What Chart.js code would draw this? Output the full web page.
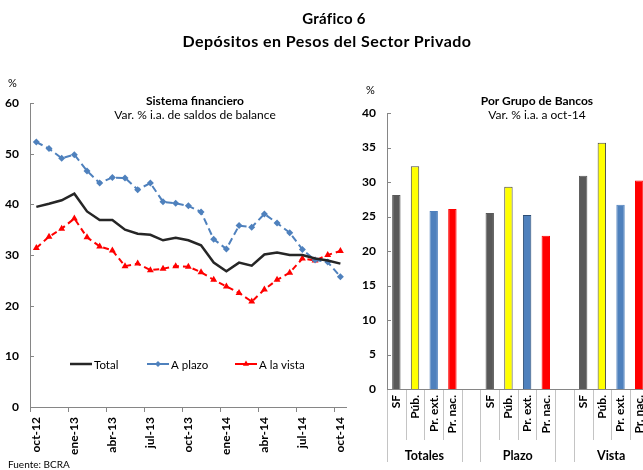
<!DOCTYPE html>
<html><head><meta charset="utf-8">
<script src="https://cdn.jsdelivr.net/npm/chart.js@4"></script>
<style>
html,body{margin:0;padding:0;background:#fff;overflow:hidden;width:643px;height:470px;}
#wrap{position:relative;width:643px;height:470px;overflow:hidden;font-family:Lato, sans-serif;color:#000;}
.t{position:absolute;white-space:nowrap;line-height:1;text-align:center;z-index:2;}
#c1{position:absolute;left:0;top:0;}
#c2{position:absolute;left:360px;top:0;}
</style></head>
<body><div id="wrap">
<canvas id="c1" width="360" height="470"></canvas>
<canvas id="c2" width="300" height="470"></canvas>
<div class="t" style="left:184px;top:11px;width:300px;font-size:15px;font-weight:bold;letter-spacing:0.3px;">Gráfico 6</div>
<div class="t" style="left:127px;top:33px;width:400px;font-size:16px;font-weight:bold;letter-spacing:0.45px;">Depósitos en Pesos del Sector Privado</div>
<div class="t" style="left:95px;top:95px;width:200px;font-size:12px;font-weight:bold;">Sistema financiero</div>
<div class="t" style="left:95px;top:109px;width:200px;font-size:12px;">Var. % i.a. de saldos de balance</div>
<div class="t" style="left:437px;top:95px;width:200px;font-size:12px;font-weight:bold;">Por Grupo de Bancos</div>
<div class="t" style="left:437px;top:109px;width:200px;font-size:12px;">Var. % i.a. a oct-14</div>
<div class="t" style="left:8px;top:77px;font-size:11px;">%</div>
<div class="t" style="left:366px;top:84px;font-size:11px;">%</div>
<div class="t" style="left:8px;top:459px;font-size:10px;">Fuente: BCRA</div>
</div>
<script>
// ---- Data: left panel (Sistema financiero) ----
const months = ['oct-12','nov-12','dic-12','ene-13','feb-13','mar-13','abr-13','may-13','jun-13','jul-13','ago-13','sep-13','oct-13','nov-13','dic-13','ene-14','feb-14','mar-14','abr-14','may-14','jun-14','jul-14','ago-14','sep-14','oct-14'];
const total = [39.5, 40.1, 40.8, 42.1, 38.6, 36.9, 36.9, 35.0, 34.2, 34.0, 32.9, 33.4, 32.9, 31.9, 28.5, 26.8, 28.5, 27.9, 30.1, 30.5, 30.0, 30.0, 29.3, 28.9, 28.3];
const aPlazo = [52.3, 51.0, 49.1, 49.8, 46.6, 44.2, 45.3, 45.2, 42.9, 44.2, 40.5, 40.2, 39.7, 38.5, 33.1, 31.2, 35.8, 35.5, 38.1, 36.3, 34.4, 31.1, 29.0, 28.6, 25.7];
const aLaVista = [31.4, 33.6, 35.2, 37.2, 33.5, 31.7, 30.9, 27.8, 28.3, 27.0, 27.3, 27.8, 27.7, 26.6, 25.1, 23.8, 22.5, 20.8, 23.2, 25.1, 26.5, 29.3, 28.9, 30.0, 30.8];
const leftYTicks = [0, 10, 20, 30, 40, 50, 60];

// ---- Data: right panel (Por Grupo de Bancos) ----
const groupLabels = ['Totales', 'Plazo', 'Vista'];
const bankLabels = ['SF', 'Púb.', 'Pr. ext.', 'Pr. nac.'];
const totalesBancos = [28.1, 32.3, 25.8, 26.1];
const plazoBancos = [25.5, 29.3, 25.2, 22.2];
const vistaBancos = [30.9, 35.7, 26.7, 30.2];
const rightYTicks = [0, 5, 10, 15, 20, 25, 30, 35, 40];

const bankColors = ['#595959', '#ffff00', '#4f81bd', '#ff0000'];
const bankBorders = ['#595959', '#4a4a4a', '#4f81bd', '#ff0000'];

Chart.defaults.font.family = 'Lato, sans-serif';
Chart.defaults.color = '#000';

const AXIS = '#868686';

const yTickInside = {
  id: 'yTickInside',
  afterDraw(chart) {
    const {ctx, chartArea} = chart; const y = chart.scales.y;
    ctx.save(); ctx.strokeStyle = AXIS; ctx.lineWidth = 1;
    y.ticks.forEach((t, i) => {
      const py = Math.round(y.getPixelForTick(i)) + 0.5;
      ctx.beginPath(); ctx.moveTo(chartArea.left, py); ctx.lineTo(chartArea.left + 4, py); ctx.stroke();
    });
    ctx.restore();
  }
};

const inlineLegend = {
  id: 'inlineLegend',
  afterDatasetsDraw(chart) {
    const ctx = chart.ctx; const y = 364;
    const xs = [70, 147, 235];
    chart.data.datasets.forEach((d, k) => {
      const x0 = xs[k];
      ctx.save();
      ctx.strokeStyle = d.borderColor; ctx.lineWidth = d.borderWidth;
      ctx.beginPath(); ctx.moveTo(x0, y); ctx.lineTo(x0 + 22, y); ctx.stroke();
      if (d.pointRadius) {
        ctx.fillStyle = d.pointBackgroundColor; ctx.strokeStyle = d.pointBackgroundColor;
        Chart.helpers.drawPoint(ctx, {pointStyle: d.pointStyle, radius: d.pointRadius - 0.5, rotation: 0, borderWidth: 0}, x0 + 11, y);
      }
      ctx.fillStyle = '#000'; ctx.font = '11.5px Lato, sans-serif'; ctx.textBaseline = 'middle'; ctx.textAlign = 'left';
      ctx.fillText(d.label, x0 + 24, y + 1);
      ctx.restore();
    });
  }
};

new Chart(document.getElementById('c1'), {
  type: 'line',
  data: {
    labels: months,
    datasets: [
      {label: 'Total', data: total, borderColor: '#262626', backgroundColor: '#262626', borderWidth: 2.5, pointRadius: 0, tension: 0},
      {label: 'A plazo', data: aPlazo, borderColor: '#4f81bd', backgroundColor: '#4f81bd', borderWidth: 2, borderDash: [7, 4],
       pointStyle: 'rectRot', pointRadius: 3.5, pointBackgroundColor: '#4f81bd', pointBorderWidth: 0, tension: 0},
      {label: 'A la vista', data: aLaVista, borderColor: '#ff0000', backgroundColor: '#ff0000', borderWidth: 2, borderDash: [6, 4],
       pointStyle: 'triangle', pointRadius: 4, pointBackgroundColor: '#ff0000', pointBorderWidth: 0, tension: 0}
    ]
  },
  options: {
    responsive: false, animation: false, devicePixelRatio: 1,
    layout: {padding: {top: 103, right: 10, left: 0, bottom: 0}},
    plugins: {legend: {display: false}, tooltip: {enabled: false}},
    scales: {
      x: {
        offset: true,
        grid: {display: true, drawOnChartArea: false, drawTicks: true, tickLength: 5, offset: true,
               color: (c) => (c.index % 3 === 0 ? AXIS : 'rgba(0,0,0,0)')},
        border: {display: true, color: AXIS, width: 1},
        ticks: {autoSkip: false, maxRotation: 90, minRotation: 90, padding: 5,
                font: {size: 12, weight: 'bold'},
                callback: (v, i) => (i % 3 === 0 ? months[i] : '')},
        afterFit: (s) => { s.height = 63; }
      },
      y: {
        min: 0, max: 60,
        afterBuildTicks: (s) => { s.ticks = leftYTicks.map(v => ({value: v})); },
        grid: {display: false, drawTicks: false},
        border: {display: true, color: AXIS, width: 1},
        ticks: {padding: 11, font: {size: 12, weight: 'bold'}},
        afterFit: (s) => { s.width = 30; }
      }
    }
  },
  plugins: [yTickInside, inlineLegend]
});

// ---- Right panel ----
const barLabels = [];
const barValues = [];
const barFill = [];
const barBorder = [];
[totalesBancos, plazoBancos, vistaBancos].forEach((arr, g) => {
  bankLabels.forEach((b, j) => {
    barLabels.push(b); barValues.push(arr[j]); barFill.push(bankColors[j]);
    barBorder.push(g === 1 && j === 2 ? '#2c4d74' : bankBorders[j]);
  });
  if (g < 2) { barLabels.push(''); barValues.push(null); barFill.push('rgba(0,0,0,0)'); barBorder.push('rgba(0,0,0,0)'); }
});

const catAxis = {
  id: 'catAxis',
  afterDraw(chart) {
    const {ctx, chartArea} = chart; const x = chart.scales.x;
    const n = x.ticks.length;
    const w = x.getPixelForTick(1) - x.getPixelForTick(0);
    const start = x.getPixelForTick(0) - w / 2;
    ctx.save(); ctx.strokeStyle = '#c4c4c4'; ctx.lineWidth = 1;
    for (let i = 0; i <= n; i++) {
      const px = Math.round(start + i * w) + 0.5;
      const full = (i % 5 === 0) || (i % 5 === 4);
      ctx.beginPath(); ctx.moveTo(px, chartArea.bottom + 1); ctx.lineTo(px, full ? 462 : 440); ctx.stroke();
    }
    ctx.fillStyle = '#000'; ctx.font = 'bold 12.5px Lato, sans-serif'; ctx.textAlign = 'center'; ctx.textBaseline = 'alphabetic';
    groupLabels.forEach((g, k) => {
      const cx = (x.getPixelForTick(k * 5 + 1) + x.getPixelForTick(k * 5 + 2)) / 2;
      ctx.fillText(g, cx, 460);
    });
    ctx.restore();
  }
};

new Chart(document.getElementById('c2'), {
  type: 'bar',
  data: {
    labels: barLabels,
    datasets: [{data: barValues, backgroundColor: barFill, borderColor: barBorder, borderWidth: 1,
                categoryPercentage: 1, barPercentage: 0.45}]
  },
  options: {
    responsive: false, animation: false, devicePixelRatio: 1,
    layout: {padding: {top: 113, right: 11, left: 0, bottom: 0}},
    plugins: {legend: {display: false}, tooltip: {enabled: false}},
    scales: {
      x: {
        grid: {display: false, drawTicks: false},
        border: {display: true, color: AXIS, width: 1},
        ticks: {autoSkip: false, maxRotation: 90, minRotation: 90, padding: 6, font: {size: 12, weight: 'bold'}},
        afterFit: (s) => { s.height = 81; }
      },
      y: {
        min: 0, max: 40,
        afterBuildTicks: (s) => { s.ticks = rightYTicks.map(v => ({value: v})); },
        grid: {display: false, drawTicks: false},
        border: {display: true, color: AXIS, width: 1},
        ticks: {padding: 11, font: {size: 12, weight: 'bold'}},
        afterFit: (s) => { s.width = 27; }
      }
    }
  },
  plugins: [yTickInside, catAxis]
});
</script>
</body></html>
